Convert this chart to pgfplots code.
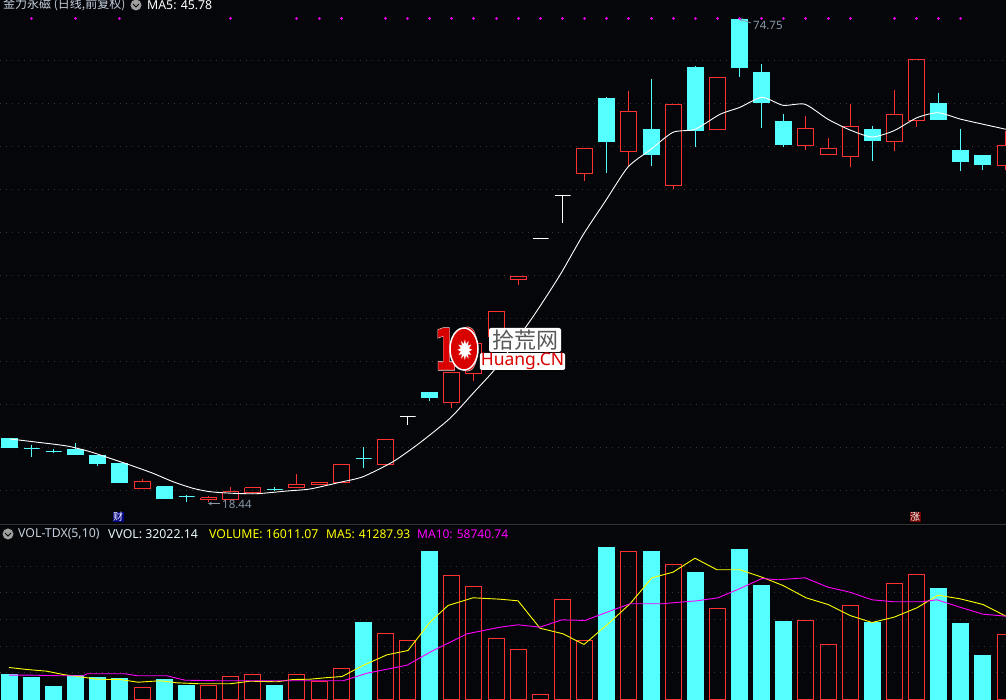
\documentclass[border=0pt]{standalone}
\usepackage{fontspec}
\usepackage{pgfplots}
\pgfplotsset{compat=1.18}
\setmainfont{Noto Sans}
\newfontfamily\cjk{Noto Sans CJK SC}
\newfontfamily\sym{DejaVu Sans}
\newfontfamily\logoback[FakeBold=3]{DejaVu Sans Bold}
\newfontfamily\logofront[FakeBold=1]{DejaVu Sans Bold}
\definecolor{bg}{HTML}{05060A}
\definecolor{cy}{HTML}{54FFFF}
\definecolor{rd}{HTML}{FF3232}
\definecolor{gridc}{HTML}{333333}
\definecolor{lbl}{HTML}{C4D0DC}
\definecolor{mkc}{HTML}{8A97A6}
\definecolor{mg}{HTML}{FF00FF}
\definecolor{yl}{HTML}{FFFF00}
\tikzset{fall/.style={draw=cy,fill=cy},rise/.style={draw=rd},flat/.style={draw=white},
  fallw/.style={draw=cy},risew/.style={draw=rd},flatw/.style={draw=white}}
% style, x, high, body top, body bottom, low (all read in screen rows)
\newcommand\candle[6]{%
  \pgfmathsetmacro\xa{#2-8}\pgfmathsetmacro\xb{#2+8}%
  \addplot[#1w,line width=1pt] coordinates {(#2,#3)(#2,#4)};%
  \addplot[#1w,line width=1pt] coordinates {(#2,#5)(#2,#6)};%
  \addplot[#1,line width=1pt] coordinates {(\xa,#4)(\xb,#4)(\xb,#5)(\xa,#5)(\xa,#4)};%
}
\pgfplotsset{panel/.style={scale only axis,width=1006pt,anchor=south west,
  xmin=0,xmax=1006,xtick=\empty,axis line style={draw=none},major tick length=0pt,
  yticklabels={},no markers,ymajorgrids,
  grid style={gridc,dash pattern=on 1pt off 5pt,line width=0.8pt},
  axis background/.style={fill=bg}}}
\begin{document}
\begin{tikzpicture}
\begin{axis}[panel,at={(0pt,175pt)},height=525pt,ymin=0,ymax=525,y dir=reverse,
  ytick={60.5,103.5,146.5,189.5,232.5,275.5,318.5,361.5,404.5,447.5,490.5}]
\addplot[only marks,mark=square*,mark size=1pt,mg] coordinates {(31.5,18.5)(75.5,18.5)(119.5,18.5)(230.5,18.5)(296.5,18.5)(319.5,18.5)(341.5,18.5)(385.5,18.5)(407.5,18.5)(429.5,18.5)(451.5,18.5)(473.5,18.5)(496.5,18.5)(518.5,18.5)(540.5,18.5)(562.5,18.5)(584.5,18.5)(606.5,18.5)(628.5,18.5)(651.5,18.5)(673.5,18.5)(695.5,18.5)(717.5,18.5)(739.5,18.5)(761.5,18.5)(783.5,18.5)(805.5,18.5)(828.5,18.5)(850.5,18.5)(894.5,18.5)(916.5,18.5)(938.5,18.5)(960.5,18.5)};
\candle{fall}{9.5}{438.5}{438.5}{447.5}{447.5}
\candle{fall}{31.5}{445}{448.5}{448.5}{457}
\candle{fall}{53.5}{449.5}{451.5}{451.5}{453.5}
\candle{fall}{75.5}{443.5}{449.5}{455}{455}
\candle{fall}{97.5}{455.5}{455.5}{463.5}{466}
\candle{fall}{119.5}{463.5}{463.5}{482.5}{482.5}
\candle{rise}{142.5}{479}{481.5}{488.5}{488.5}
\candle{fall}{164.5}{486.5}{486.5}{498.5}{498.5}
\candle{fall}{186.5}{495}{496.5}{496.5}{502}
\candle{rise}{208.5}{495.5}{497.5}{499.5}{502}
\candle{rise}{230.5}{487}{491.5}{499.5}{499.5}
\candle{rise}{252.5}{487.5}{487.5}{492.5}{494}
\candle{fall}{274.5}{487}{489.5}{489.5}{491}
\candle{rise}{296.5}{474}{484.5}{487.5}{487.5}
\candle{rise}{319.5}{482.5}{482.5}{484.5}{484.5}
\candle{rise}{341.5}{464.5}{464.5}{482.5}{482.5}
\candle{fall}{363.5}{447}{458.5}{458.5}{468.5}
\candle{rise}{385.5}{439.5}{439.5}{464.5}{464.5}
\candle{flat}{407.5}{416.5}{416.5}{416.5}{425}
\candle{fall}{429.5}{392.5}{392.5}{397.5}{401}
\candle{rise}{451.5}{372.5}{372.5}{402.5}{408}
\candle{rise}{473.5}{343.5}{343.5}{373.5}{381}
\candle{rise}{496.5}{311.5}{311.5}{336.5}{336.5}
\candle{rise}{518.5}{276.5}{276.5}{279.5}{285}
\candle{flat}{540.5}{238.5}{238.5}{238.5}{238.5}
\candle{flat}{562.5}{195.5}{195.5}{195.5}{223}
\candle{rise}{584.5}{148.5}{148.5}{173.5}{181}
\candle{fall}{606.5}{97}{98.5}{141.5}{173}
\candle{rise}{628.5}{91}{111.5}{151.5}{167}
\candle{fall}{651.5}{79}{129.5}{154.5}{166}
\candle{rise}{673.5}{104.5}{104.5}{185.5}{189}
\candle{fall}{695.5}{66}{67.5}{130.5}{147}
\candle{rise}{717.5}{77.5}{77.5}{129.5}{129.5}
\candle{fall}{739.5}{19.5}{19.5}{67.5}{77}
\candle{fall}{761.5}{64}{72.5}{102.5}{128}
\candle{fall}{783.5}{114}{121.5}{144.5}{147}
\candle{rise}{805.5}{116}{128.5}{145.5}{150}
\candle{rise}{828.5}{138}{148.5}{154.5}{154.5}
\candle{rise}{850.5}{104}{126.5}{156.5}{167}
\candle{fall}{872.5}{126}{129.5}{140.5}{161}
\candle{rise}{894.5}{90}{114.5}{141.5}{151}
\candle{rise}{916.5}{59.5}{59.5}{120.5}{127}
\candle{fall}{938.5}{93}{103.5}{119.5}{119.5}
\candle{fall}{960.5}{129}{150.5}{161.5}{171}
\candle{fall}{982.5}{155.5}{155.5}{164.5}{170}
\candle{rise}{1005.5}{131}{145.5}{165.5}{170}
% MA5 line
\addplot[white,line width=0.9pt,smooth,tension=0.4] coordinates {(10,439)(33,441.7)(67,446)(90,451.7)(110,458.3)(130,465)(153,473.3)(173,481.7)(193,488.3)(210,491.7)(233,493.3)(257,493.7)(287,491)(310,489)(340,482.3)(363,476.7)(393,461.7)(420,442.7)(450,418.3)(473,393.3)(497,366.7)(533,316.7)(560,275)(583,235)(605,201.7)(628,167)(650,150)(673,132.3)(695,129.3)(720,114.3)(740,107.3)(762,97.3)(783,105.3)(805,104.3)(828,119.3)(850,130)(872,137)(894,130.7)(917,117.7)(938,112.7)(960,119)(982,124)(1006,129.3)};
\addplot[gridc,line width=1pt] coordinates {(0,524.5)(1006,524.5)};
% header
\node[overlay,anchor=west,inner sep=0pt,lbl,font=\fontsize{12}{12}\cjk] at (axis cs:3,5) {金力永磁 (日线,前复权)};
\node[overlay,circle,fill=gray!75,minimum size=11pt,inner sep=0pt] at (axis cs:136,5) {};
\draw[bg,line width=1pt] (axis cs:133,4) -- (axis cs:136,7) -- (axis cs:139,4);
\node[overlay,anchor=west,inner sep=0pt,white,font=\fontsize{12.3}{12}\selectfont] at (axis cs:147,5) {MA5: 45.78};
% extreme labels
\node[anchor=west,inner sep=0pt,mkc,font=\fontsize{11.5}{12}\selectfont] at (axis cs:222,504) {18.44};
\draw[mkc,->,>=stealth,line width=0.7pt] (axis cs:220,503.5) -- (axis cs:208,503.5);
\node[anchor=west,inner sep=0pt,mkc,font=\fontsize{11.5}{12}\selectfont] at (axis cs:753,25) {74.75};
\draw[mkc,->,>=stealth,line width=0.7pt] (axis cs:751,23) -- (axis cs:739,19);
% flags
\node[fill=blue!50!black,text=white,inner sep=0.5pt,font=\fontsize{10}{10}\cjk] at (axis cs:118,517) {财};
\node[fill=red!45!black,text=white,inner sep=0.5pt,font=\fontsize{10}{10}\cjk] at (axis cs:915,517) {涨};
% site watermark
\node[fill=white,rounded corners=2pt,minimum width=72pt,minimum height=24pt,inner sep=0pt,text=black!65,font=\fontsize{22}{22}\cjk] at (axis cs:525,340) {拾荒网};
\node[fill=white,rounded corners=2pt,inner xsep=1pt,inner ysep=0pt,text=red!85!black,font=\fontsize{17.5}{18}\selectfont] at (axis cs:522.5,361.5) {Huang.CN};
\node[white,inner sep=0pt,xscale=0.83,yscale=1.5,font=\fontsize{38}{38}\logoback] at (axis cs:456.5,349) {10};
\node[red!85!black,inner sep=0pt,xscale=0.83,yscale=1.5,font=\fontsize{38}{38}\logofront] at (axis cs:456.5,349) {10};
\fill[red!85!black,draw=white,line width=1.5pt] (axis cs:464,349) ellipse [x radius=14pt,y radius=21pt];
\node[white,inner sep=0pt,xscale=1,yscale=1.4,font=\fontsize{20}{20}\sym] at (axis cs:465,350) {✹};
\end{axis}
\begin{axis}[panel,at={(0pt,0pt)},height=175pt,ymin=-0.5,ymax=174.5,
  ytick={27,53,80,107,133}]
\addplot[ybar,bar width=16,bar shift=0pt,draw=cy,fill=cy] coordinates {(9.5,25)(31.5,22)(53.5,13)(75.5,24)(97.5,22)(119.5,21)(164.5,20)(186.5,14)(274.5,14)(363.5,77)(429.5,148)(606.5,152)(651.5,148)(695.5,127)(739.5,150)(761.5,114)(783.5,78)(872.5,77)(938.5,111)(960.5,76)(982.5,44)};
\addplot[ybar,bar width=16,bar shift=0pt,draw=rd,line width=1pt] coordinates {(142.5,12)(208.5,14)(230.5,23)(252.5,25)(296.5,25)(319.5,18)(341.5,31)(385.5,66)(407.5,59)(451.5,124)(473.5,113)(496.5,61)(518.5,50)(540.5,5)(562.5,100)(584.5,59)(628.5,148)(673.5,135)(717.5,91)(805.5,79)(828.5,55)(850.5,94)(894.5,116)(916.5,125)(1005.5,65)};
\addplot[yl,line width=0.9pt] coordinates {(9,32)(27,30)(47,28.3)(63,25)(83,22.3)(97,20.3)(120,20)(138,17.3)(160,18.7)(177,16.7)(200,15.7)(230,15.7)(250,18.3)(277,17.7)(293,20)(310,20.3)(325,21.7)(342,23)(363,34)(387,44.7)(408,49)(430,77.3)(448,94)(473,101.7)(500,100.3)(518,98.7)(540,71.3)(563,65.7)(584,55)(610,77.3)(630,95.7)(652,121.7)(673,127.3)(695,141.3)(717,129.7)(740,129.7)(762,122.3)(783,114)(806,101.7)(828,95)(850,84)(872,77)(894,82.3)(917,91.7)(938,104.3)(960,100.7)(983,95)(1006,83.3)};
\addplot[mg,line width=0.9pt] coordinates {(9,24.3)(33,24.3)(63,23.7)(83,23.7)(87,25.7)(125,25.7)(138,23.7)(167,23.7)(185,19.3)(220,18.7)(260,18.7)(343,18.7)(367,26.3)(407,34.3)(430,47.3)(467,65.7)(500,72.3)(518,74.7)(540,72.3)(562,79.7)(585,79)(607,87.3)(630,95.7)(662,95.7)(673,96.7)(697,98.7)(718,101.7)(740,111)(762,121)(778,119.7)(805,121.7)(828,112.3)(850,107.3)(872,99.7)(894,97.7)(922,97.7)(937,99.7)(960,92.3)(983,85.3)(1006,83.3)};
\node[circle,fill=gray!75,minimum size=11pt,inner sep=0pt] at (axis cs:8,165.5) {};
\draw[bg,line width=1pt] (axis cs:5,166.5) -- (axis cs:8,163.5) -- (axis cs:11,166.5);
\node[anchor=west,inner sep=0pt,lbl,font=\fontsize{12.3}{12}\selectfont] at (axis cs:18,165.5) {VOL-TDX(5,10)};
\node[anchor=west,inner sep=0pt,white!90!cyan,font=\fontsize{12.3}{12}\selectfont] at (axis cs:108,165.5) {VVOL: 32022.14};
\node[anchor=west,inner sep=0pt,yl,font=\fontsize{12.3}{12}\selectfont] at (axis cs:209,165.5) {VOLUME: 16011.07};
\node[anchor=west,inner sep=0pt,yl,font=\fontsize{12}{12}\selectfont] at (axis cs:326,165.5) {MA5: 41287.93};
\node[anchor=west,inner sep=0pt,mg,font=\fontsize{12}{12}\selectfont] at (axis cs:417,165.5) {MA10: 58740.74};
\end{axis}
\pgfresetboundingbox
\path[use as bounding box] (0pt,0pt) rectangle (1006pt,700pt);
\end{tikzpicture}
\end{document}
